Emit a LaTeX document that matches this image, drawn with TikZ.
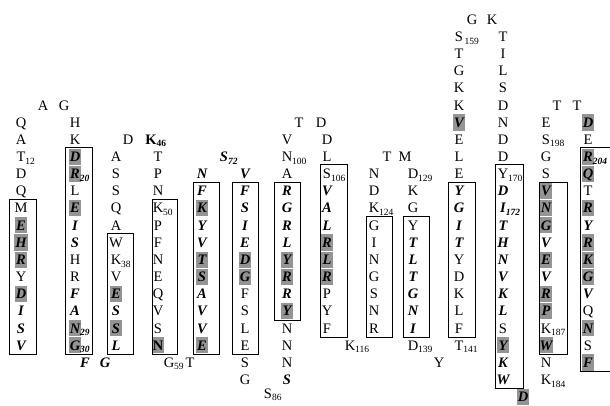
\documentclass[tikz,border=0pt]{standalone}
\usepackage{fontspec}
\setmainfont{Liberation Serif}
\newcommand{\sbs}[1]{\rlap{\raisebox{-2.6pt}{\fontsize{9.5}{9.5}\selectfont #1}}}
\newcommand{\resN}[4]{\node[rg] (#1) at (#2,{19.5+17.15*(#3)}) {#4};}
\newcommand{\resB}[4]{\node[bi] (#1) at (#2,{19.5+17.15*(#3)}) {#4};}
\newcommand{\resS}[4]{\node[sh] (#1) at (#2,{19.5+17.15*(#3)}) {#4};}
\newcommand{\resU}[4]{\node[bd] (#1) at (#2,{19.5+17.15*(#3)}) {#4};}
\newcommand{\resSU}[4]{\node[shu] (#1) at (#2,{19.5+17.15*(#3)}) {#4};}
\newcommand{\colbox}[4]{\draw[bx] (#1,{19.5+17.15*(#3)-9}) rectangle (#2,{19.5+17.15*(#4)+9});}
\tikzset{
  rg/.style={font=\fontsize{14.5}{14.5}\selectfont, inner sep=0pt, text height=9.6pt, text depth=0pt, anchor=center},
  bi/.style={rg, font=\fontsize{14.5}{14.5}\selectfont\bfseries\itshape},
  bd/.style={rg, font=\fontsize{14.5}{14.5}\selectfont\bfseries},
  sh/.style={bi, fill=black!42, inner xsep=1pt, inner ysep=3.3pt, minimum width=12pt},
  shu/.style={bd, fill=black!42, inner xsep=1pt, inner ysep=3.3pt, minimum width=12pt},
  bx/.style={draw=black, line width=1pt}
}
\begin{document}
\begin{tikzpicture}[x=1pt,y=-1pt]
\useasboundingbox (0,0) rectangle (610,405);
\fill[white] (0,0) rectangle (610,405);
% column 1
\resB{r1}{21}{19}{V}
\resB{r2}{21}{18}{S}
\resB{r3}{21}{17}{I}
\resS{r4}{21}{16}{D}
\resN{r5}{21}{15}{Y}
\resS{r6}{21}{14}{R}
\resS{r7}{21}{13}{H}
\resS{r8}{21}{12}{E}
\resN{r9}{21}{11}{M}
\resN{r10}{21}{10}{Q}
\resN{r11}{21}{9}{D}
\resN{r12}{21}{8}{T\sbs{12}}
\resN{r13}{21}{7}{A}
\resN{r14}{21}{6}{Q}
\resN{r15}{43}{5}{A}
\resN{r16}{64}{5}{G}
\colbox{9}{36}{11}{19}
% column 2
\resN{r17}{75}{6}{H}
\resN{r18}{75}{7}{K}
\resS{r19}{75}{8}{D}
\resS{r20}{75}{9}{R\sbs{20}}
\resN{r21}{75}{10}{L}
\resS{r22}{75}{11}{E}
\resB{r23}{75}{12}{I}
\resB{r24}{75}{13}{S}
\resN{r25}{75}{14}{H}
\resN{r26}{75}{15}{R}
\resB{r27}{75}{16}{F}
\resB{r28}{75}{17}{A}
\resS{r29}{75}{18}{N\sbs{29}}
\resS{r30}{75}{19}{G\sbs{30}}
\resB{r31}{85}{20}{F}
\resB{r32}{105}{20}{G}
\colbox{65}{92}{8}{19}
% column 3
\resB{r33}{116}{19}{L}
\resS{r34}{116}{18}{S}
\resB{r35}{116}{17}{S}
\resS{r36}{116}{16}{E}
\resN{r37}{116}{15}{V}
\resN{r38}{116}{14}{K\sbs{38}}
\resN{r39}{116}{13}{W}
\resN{r40}{116}{12}{A}
\resN{r41}{116}{11}{Q}
\resN{r42}{116}{10}{S}
\resN{r43}{116}{9}{S}
\resN{r44}{116}{8}{A}
\resN{r45}{128}{7}{D}
\resU{r46}{151}{7}{K\sbs{46}}
\colbox{107}{133}{13}{19}
% column 4
\resN{r47}{158}{8}{T}
\resN{r48}{158}{9}{P}
\resN{r49}{158}{10}{N}
\resN{r50}{158}{11}{K\sbs{50}}
\resN{r51}{158}{12}{P}
\resN{r52}{158}{13}{F}
\resN{r53}{158}{14}{N}
\resN{r54}{158}{15}{E}
\resN{r55}{158}{16}{Q}
\resN{r56}{158}{17}{V}
\resN{r57}{158}{18}{S}
\resSU{r58}{158}{19}{N}
\resN{r59}{169}{20}{G\sbs{59}}
\resN{r60}{190}{20}{T}
\colbox{152}{177}{11}{19}
% column 5
\resS{r61}{202}{19}{E}
\resB{r62}{202}{18}{V}
\resB{r63}{202}{17}{V}
\resB{r64}{202}{16}{A}
\resS{r65}{202}{15}{S}
\resS{r66}{202}{14}{T}
\resB{r67}{202}{13}{V}
\resB{r68}{202}{12}{Y}
\resS{r69}{202}{11}{K}
\resB{r70}{202}{10}{F}
\resB{r71}{202}{9}{N}
\resB{r72}{224}{8}{S\sbs{72}}
\colbox{193}{219}{10}{19}
% column 6
\resB{r73}{245}{9}{V}
\resB{r74}{245}{10}{F}
\resB{r75}{245}{11}{S}
\resB{r76}{245}{12}{I}
\resB{r77}{245}{13}{E}
\resS{r78}{245}{14}{D}
\resS{r79}{245}{15}{G}
\resN{r80}{245}{16}{F}
\resN{r81}{245}{17}{S}
\resN{r82}{245}{18}{L}
\resN{r83}{245}{19}{E}
\resN{r84}{245}{20}{S}
\resN{r85}{245}{21}{G}
\resN{r86}{268}{21.8}{S\sbs{86}}
\colbox{232}{258}{10}{19}
% column 7
\resB{r87}{287}{21}{S}
\resN{r88}{287}{20}{N}
\resN{r89}{287}{19}{N}
\resN{r90}{287}{18}{N}
\resS{r91}{287}{17}{Y}
\resB{r92}{287}{16}{R}
\resS{r93}{287}{15}{R}
\resS{r94}{287}{14}{Y}
\resB{r95}{287}{13}{L}
\resB{r96}{287}{12}{R}
\resB{r97}{287}{11}{G}
\resB{r98}{287}{10}{R}
\resN{r99}{287}{9}{A}
\resN{r100}{287}{8}{N\sbs{100}}
\resN{r101}{287}{7}{V}
\resN{r102}{299}{6}{T}
\resN{r103}{321}{6}{D}
\colbox{274}{300}{10}{17}
% column 8
\resN{r104}{327}{7}{D}
\resN{r105}{327}{8}{L}
\resN{r106}{327}{9}{S\sbs{106}}
\resB{r107}{327}{10}{V}
\resB{r108}{327}{11}{A}
\resB{r109}{327}{12}{L}
\resS{r110}{327}{13}{R}
\resS{r111}{327}{14}{L}
\resS{r112}{327}{15}{R}
\resN{r113}{327}{16}{P}
\resN{r114}{327}{17}{Y}
\resN{r115}{327}{18}{F}
\resN{r116}{350}{19}{K\sbs{116}}
\colbox{320}{347}{9}{18}
% column 9
\resN{r117}{374}{18}{R}
\resN{r118}{374}{17}{N}
\resN{r119}{374}{16}{S}
\resN{r120}{374}{15}{G}
\resN{r121}{374}{14}{N}
\resN{r122}{374}{13}{I}
\resN{r123}{374}{12}{G}
\resN{r124}{374}{11}{K\sbs{124}}
\resN{r125}{374}{10}{D}
\resN{r126}{374}{9}{N}
\resN{r127}{387}{8}{T}
\resN{r128}{405}{8}{M}
\colbox{366}{392}{12}{18}
% column 10
\resN{r129}{413}{9}{D\sbs{129}}
\resN{r130}{413}{10}{K}
\resN{r131}{413}{11}{G}
\resN{r132}{413}{12}{Y}
\resB{r133}{413}{13}{T}
\resB{r134}{413}{14}{L}
\resB{r135}{413}{15}{T}
\resB{r136}{413}{16}{G}
\resB{r137}{413}{17}{N}
\resB{r138}{413}{18}{I}
\resN{r139}{413}{19}{D\sbs{139}}
\resN{r140}{439}{20}{Y}
\colbox{403}{429}{12}{18}
% column 11
\resN{r141}{459}{19}{T\sbs{141}}
\resN{r142}{459}{18}{F}
\resN{r143}{459}{17}{L}
\resN{r144}{459}{16}{K}
\resN{r145}{459}{15}{D}
\resN{r146}{459}{14}{Y}
\resB{r147}{459}{13}{T}
\resB{r148}{459}{12}{I}
\resB{r149}{459}{11}{G}
\resB{r150}{459}{10}{Y}
\resN{r151}{459}{9}{E}
\resN{r152}{459}{8}{L}
\resN{r153}{459}{7}{E}
\resS{r154}{459}{6}{V}
\resN{r155}{459}{5}{K}
\resN{r156}{459}{4}{K}
\resN{r157}{459}{3}{G}
\resN{r158}{459}{2}{T}
\resN{r159}{459}{1}{S\sbs{\,159}}
\resN{r160}{472}{0}{G}
\resN{r161}{492}{0}{K}
\colbox{448}{475}{10}{18}
% column 12
\resN{r162}{503}{1}{T}
\resN{r163}{503}{2}{I}
\resN{r164}{503}{3}{L}
\resN{r165}{503}{4}{S}
\resN{r166}{503}{5}{D}
\resN{r167}{503}{6}{N}
\resN{r168}{503}{7}{D}
\resN{r169}{503}{8}{D}
\resN{r170}{503}{9}{Y\sbs{170}}
\resB{r171}{503}{10}{D}
\resB{r172}{503}{11}{I\sbs{172}}
\resB{r173}{503}{12}{T}
\resB{r174}{503}{13}{H}
\resB{r175}{503}{14}{N}
\resB{r176}{503}{15}{V}
\resB{r177}{503}{16}{K}
\resB{r178}{503}{17}{L}
\resN{r179}{503}{18}{S}
\resS{r180}{503}{19}{Y}
\resB{r181}{503}{20}{K}
\resB{r182}{503}{21}{W}
\colbox{495}{523}{9}{21}
\resS{r183}{523}{22}{D}
% column 13
\resN{r184}{546}{21}{K\sbs{184}}
\resN{r185}{546}{20}{N}
\resS{r186}{546}{19}{W}
\resN{r187}{546}{18}{K\sbs{187}}
\resS{r188}{546}{17}{P}
\resS{r189}{546}{16}{R}
\resB{r190}{546}{15}{V}
\resS{r191}{546}{14}{E}
\resB{r192}{546}{13}{V}
\resS{r193}{546}{12}{G}
\resS{r194}{546}{11}{N}
\resS{r195}{546}{10}{V}
\resN{r196}{546}{9}{S}
\resN{r197}{546}{8}{G}
\resN{r198}{546}{7}{S\sbs{198}}
\resN{r199}{546}{6}{E}
\resN{r200}{557}{5}{T}
\resN{r201}{577}{5}{T}
\colbox{539}{567}{10}{19}
% column 14
\resS{r202}{588}{6}{D}
\resN{r203}{588}{7}{E}
\resS{r204}{588}{8}{R\sbs{204}}
\resS{r205}{588}{9}{Q}
\resN{r206}{588}{10}{T}
\resS{r207}{588}{11}{R}
\resB{r208}{588}{12}{Y}
\resS{r209}{588}{13}{R}
\resS{r210}{588}{14}{K}
\resS{r211}{588}{15}{G}
\resB{r212}{588}{16}{V}
\resN{r213}{588}{17}{Q}
\resS{r214}{588}{18}{N}
\resN{r215}{588}{19}{S}
\resS{r216}{588}{20}{F}
\colbox{580}{614}{8}{20}
\end{tikzpicture}
\end{document}
